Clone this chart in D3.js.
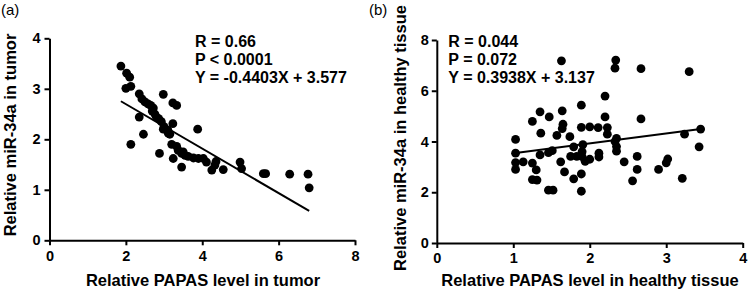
<!DOCTYPE html>
<html>
<head>
<meta charset="utf-8">
<script src="https://cdn.jsdelivr.net/npm/d3@7"></script>
<style>
  body { margin: 0; background: #fff; }
  svg { display: block; font-family: "Liberation Sans", Arial, sans-serif; }
  .axis path, .axis line { stroke: #000; stroke-width: 2px; }
  .axis text { font-size: 14.5px; font-weight: bold; fill: #000; }
  .title { font-size: 16.5px; font-weight: bold; }
  .stat { font-size: 16px; font-weight: bold; }
</style>
</head>
<body>
<div id="chart"></div>
<script>
// panel (a) - tumor
const tumorX = [1.87, 2.02, 2.1, 2.0, 2.13, 2.35, 2.42, 2.5, 2.58, 2.65, 2.69, 2.76, 2.8, 2.86, 2.93,
  2.98, 3.23, 3.33, 2.35, 2.98, 3.1, 3.23, 3.11, 2.46, 2.13, 3.88, 3.2, 3.33, 3.37, 3.46, 3.55,
  3.63, 3.77, 3.9, 4.03, 4.11, 3.24, 2.88, 3.46, 4.25, 4.33, 4.36, 4.55, 4.99, 5.03, 5.6, 5.66,
  6.29, 6.77, 6.8, 2.72, 3.0, 3.15, 3.5];
const tumorY = [3.45, 3.31, 3.23, 3.01, 3.05, 2.9, 2.8, 2.74, 2.7, 2.67, 2.56, 2.5, 2.44, 2.41, 2.35,
  2.89, 2.72, 2.67, 2.44, 2.2, 2.18, 2.31, 2.12, 2.1, 1.9, 2.2, 1.9, 1.86, 1.78, 1.72, 1.68,
  1.66, 1.63, 1.62, 1.62, 1.55, 1.62, 1.72, 1.45, 1.39, 1.49, 1.56, 1.4, 1.55, 1.42, 1.32, 1.32,
  1.31, 1.31, 1.04, 2.62, 2.25, 2.1, 1.75];

// panel (b) - healthy tissue
const healthyX = [1.63, 2.34, 2.33, 2.67, 3.30, 2.2, 1.89, 1.64, 1.35, 1.47, 1.25, 2.2, 2.67,
  1.65, 1.64, 1.89, 2.0, 2.11, 2.23, 2.23, 3.45, 3.24, 1.36, 1.57, 1.74, 1.03, 2.35, 2.33, 1.91,
  1.79, 2.35, 2.35, 3.43, 1.03, 1.35, 1.46, 1.51, 1.9, 2.12, 2.12, 1.75, 1.83, 1.9, 2.62, 2.0,
  1.94, 1.03, 1.13, 1.25, 1.62, 2.45, 3.02, 3.0, 1.03, 1.3, 1.67, 1.89, 2.62, 2.9, 1.25, 1.31,
  1.79, 2.56, 3.21, 1.46, 1.52, 1.89];
const healthyY = [7.18, 7.21, 6.89, 6.87, 6.75, 5.79, 5.43, 5.21, 5.17, 4.97, 4.79, 4.97, 4.89,
  4.68, 4.51, 4.56, 4.58, 4.55, 4.55, 4.29, 4.49, 4.29, 4.33, 4.24, 4.19, 4.08, 4.12, 4.0, 3.88,
  3.79, 3.8, 3.62, 3.79, 3.54, 3.47, 3.56, 3.64, 3.6, 3.54, 3.39, 3.41, 3.41, 3.4, 3.41, 3.3,
  3.22, 3.17, 3.2, 3.15, 3.2, 3.2, 3.31, 3.16, 2.9, 2.88, 2.8, 2.72, 2.9, 2.9, 2.5, 2.48,
  2.53, 2.45, 2.55, 2.08, 2.08, 2.04];

const xTicksA = [0, 2, 4, 6, 8];
const yTicksA = [0, 1, 2, 3, 4];
const xTicksB = [0, 1, 2, 3, 4];
const yTicksB = [0, 2, 4, 6, 8];

const fitSlope = [-0.4403, 0.3938];
const fitIntercept = [3.577, 3.137];

const statsA = ["R = 0.66", "P < 0.0001", "Y = -0.4403X + 3.577"];
const statsB = ["R = 0.044", "P = 0.072", "Y = 0.3938X + 3.137"];

const width = 750, height = 294;
const svg = d3.select("#chart").append("svg")
  .attr("width", width)
  .attr("height", height);

function drawPanel(cfg) {
  const x = d3.scaleLinear().domain(cfg.xDomain).range([cfg.left, cfg.right]);
  const y = d3.scaleLinear().domain(cfg.yDomain).range([cfg.bottom, cfg.top]);
  const g = svg.append("g");

  g.append("g")
    .attr("class", "axis")
    .attr("transform", `translate(0,${cfg.bottom})`)
    .call(d3.axisBottom(x).tickValues(cfg.xTicks).tickFormat(d3.format("d"))
      .tickSize(5).tickSizeOuter(0).tickPadding(5));

  g.append("g")
    .attr("class", "axis")
    .attr("transform", `translate(${cfg.left},0)`)
    .call(d3.axisLeft(y).tickValues(cfg.yTicks).tickFormat(d3.format("d"))
      .tickSize(5).tickSizeOuter(0).tickPadding(cfg.yPad));

  // points
  const pts = cfg.xs.map((v, i) => [v, cfg.ys[i]]);
  g.selectAll("circle")
    .data(pts)
    .join("circle")
    .attr("cx", d => x(d[0]))
    .attr("cy", d => y(d[1]))
    .attr("r", 4.4)
    .attr("fill", "#000");

  // regression line over the data's x range
  const ext = d3.extent(cfg.xs);
  g.append("line")
    .attr("x1", x(ext[0])).attr("y1", y(cfg.slope * ext[0] + cfg.intercept))
    .attr("x2", x(ext[1])).attr("y2", y(cfg.slope * ext[1] + cfg.intercept))
    .attr("stroke", "#000")
    .attr("stroke-width", 2);

  // stats text
  g.selectAll(".stat")
    .data(cfg.stats)
    .join("text")
    .attr("class", "stat")
    .attr("x", cfg.statX)
    .attr("y", (d, i) => 46.5 + i * 18.3)
    .text(d => d);

  // axis titles
  g.append("text")
    .attr("class", "title")
    .attr("text-anchor", "middle")
    .attr("x", cfg.xTitleX)
    .attr("y", 286)
    .text(cfg.xTitle);

  g.append("text")
    .attr("class", "title")
    .attr("text-anchor", "middle")
    .attr("transform", `translate(${cfg.yTitleX},${cfg.yTitleY}) rotate(-90)`)
    .text(cfg.yTitle);

  g.append("text")
    .attr("x", cfg.labelX)
    .attr("y", 15)
    .style("font-size", "15px")
    .text(cfg.label);
}

drawPanel({
  xs: tumorX, ys: tumorY,
  xDomain: [0, 8], yDomain: [0, 4],
  xTicks: xTicksA, yTicks: yTicksA,
  left: 49.5, right: 355, top: 38.3, bottom: 240.3, yPad: 4,
  slope: fitSlope[0], intercept: fitIntercept[0],
  stats: statsA, statX: 195,
  xTitle: "Relative PAPAS level in tumor", xTitleX: 203,
  yTitle: "Relative miR-34a in tumor", yTitleX: 16, yTitleY: 135,
  label: "(a)", labelX: 1
});

drawPanel({
  xs: healthyX, ys: healthyY,
  xDomain: [0, 4], yDomain: [0, 8],
  xTicks: xTicksB, yTicks: yTicksB,
  left: 436.8, right: 742.7, top: 40, bottom: 243, yPad: 3,
  slope: fitSlope[1], intercept: fitIntercept[1],
  stats: statsB, statX: 448.3,
  xTitle: "Relative PAPAS level in healthy tissue", xTitleX: 590,
  yTitle: "Relative miR-34a in healthy tissue", yTitleX: 406, yTitleY: 138,
  label: "(b)", labelX: 369
});
</script>
</body>
</html>
